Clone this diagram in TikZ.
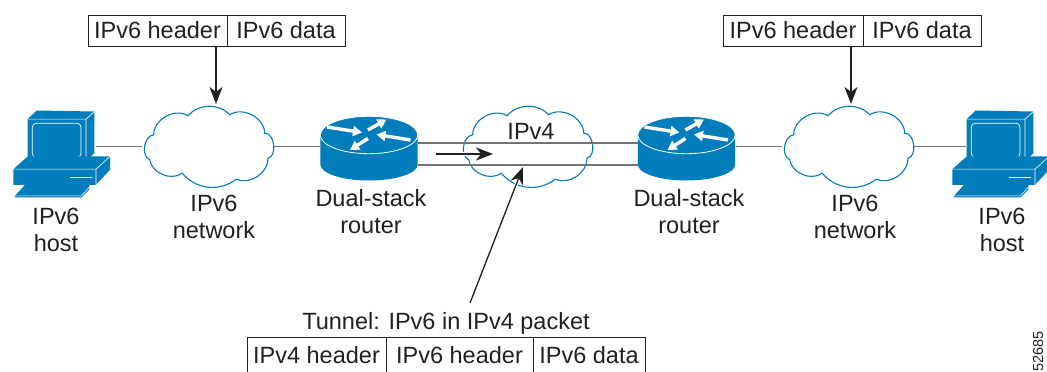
\documentclass[tikz,border=0pt]{standalone}
\usepackage{fontspec}
\setmainfont{Liberation Sans}
\usetikzlibrary{arrows.meta}
\definecolor{ciscoblue}{RGB}{0,125,186}
\definecolor{wirecol}{RGB}{115,115,115}
\definecolor{inkcol}{RGB}{35,31,32}
\tikzset{
    every node/.style={font=\fontsize{23.5}{27}\selectfont, text=inkcol},
    anchorbox/.style={inner sep=0pt, outer sep=0pt, minimum height=0pt},
    label/.style={align=center, inner sep=0pt},
    cell/.style={draw=inkcol, line width=0.7pt, inner sep=0pt, outer sep=0pt, minimum height=31pt, anchor=south west},
    wire/.style={draw=wirecol, line width=1.5pt},
    pointer/.style={draw=inkcol, line width=1.3pt, -{Stealth[length=17pt,width=13pt,inset=5pt]}},
    halo/.style={preaction={draw=white, line width=3.5pt}},
    pics/cloud/.style={code={
        \draw [draw=ciscoblue, line width=1.1pt, fill=white]
            (-54.3,11.7) to[bend left=62] (-20,30.7) to[bend left=48] (21.7,31.7)
            to[bend left=62] (56.7,13.3) to[bend left=85] (60,-11.7)
            to[bend left=58] (28.3,-32.7) to[bend left=44] (-25.7,-26.7)
            to[bend left=58] (-58.3,-13.3) to[bend left=75] cycle;
    }},
    pics/router/.style={code={
        \fill [ciscoblue] (-48.7,11) -- (-48.7,-18) arc[start angle=180, end angle=360, x radius=48.7, y radius=16] -- (48.7,11) -- cycle;
        \draw [white, line width=0.8pt, fill=ciscoblue] (0,11.5) ellipse [x radius=48.7, y radius=18.7];
        \foreach \ax/\ay/\bx/\by in {-42/19.5/-7/14, -1/16.5/17.5/27, 41.5/6.5/7.5/12, -1/8/-19/-3.5}
            \draw [white, line width=3.4pt, -{Triangle[length=9pt,width=10pt]}] (\ax,\ay) -- (\bx,\by);
    }},
    pics/hostpc/.style={code={
        \fill [ciscoblue] (14.4,27.3) -- (23.3,36) -- (81,35) -- (81,-6.7) -- (72.7,-15) -- (14.4,-15) -- cycle;
        \draw [white, line width=0.6pt] (14.4,27.3) -- (72.7,27.3) -- (81,35) (72.7,27.3) -- (72.7,-15);
        \draw [white, line width=0.7pt, rounded corners=4pt] (19,23.3) rectangle (67.7,-11);
        \fill [ciscoblue] (0,-22.7) -- (14.4,-10) -- (96.7,-10) -- (96.7,-23.3) -- (82.7,-38.3) -- (0,-38.3) -- cycle;
        \draw [white, line width=0.6pt] (0,-22.7) -- (82.7,-22.7) -- (96.7,-10) (82.7,-22.7) -- (82.7,-38.3);
        \draw [white, line width=1.2pt] (56.7,-31.3) -- (78.3,-31.3);
        \fill [ciscoblue] (1.7,-49.3) -- (11.7,-38.3) -- (76,-38.3) -- (76,-43) -- (68,-51) -- (1.7,-51) -- cycle;
        \draw [white, line width=0.5pt] (1.7,-49.3) -- (68.3,-49.3) -- (76,-40.5);
    }},
}
\begin{document}
\begin{tikzpicture}[x=1pt,y=1pt]
    \useasboundingbox (0,0) rectangle (1047,372);
    % everything sits on the wire level
    \node [anchorbox, minimum width=80pt] (hostL) at (56,225.5) {};
    \node [anchorbox, minimum width=132pt] (netL) at (208,225.5) {};
    \node [anchorbox, minimum width=98pt] (routerL) at (369,225.5) {};
    \node [anchorbox, minimum width=132pt] (tunnelnet) at (527,225.5) {};
    \node [anchorbox, minimum width=98pt] (routerR) at (686.5,225.5) {};
    \node [anchorbox, minimum width=132pt] (netR) at (848,225.5) {};
    \node [anchorbox, minimum width=80pt] (hostR) at (1006,225.5) {};

    \pic at (netL) {cloud};
    \pic at (tunnelnet) {cloud};
    \pic at (netR) {cloud};

    \draw [wire] (hostL.east) -- (netL.west);
    \draw [wire] (netL.east) -- (routerL.west);
    \draw [wire] (routerR.east) -- (netR.west);
    \draw [wire] (netR.east) -- (hostR.west);
    \draw [wire] ([yshift=3.5pt]routerL.east) -- ([yshift=3.5pt]routerR.west);
    \draw [wire] ([yshift=-18.5pt]routerL.east) -- ([yshift=-18.5pt]routerR.west);

    \pic at (13.3,225.5) {hostpc};
    \pic at (952.3,225.5) {hostpc};
    \pic at (routerL) {router};
    \pic at (routerR) {router};

    \node [label] (hostLtext) at (56,142) {IPv6\\host};
    \node [label] (netLtext) at (214,155) {IPv6\\network};
    \node [label] (routerLtext) at (371,160) {Dual-stack\\router};
    \node [label] (tunneltext) at (531,241) {IPv4};
    \node [label] (routerRtext) at (689,160) {Dual-stack\\router};
    \node [label] (netRtext) at (855,155) {IPv6\\network};
    \node [label] (hostRtext) at (1002,142) {IPv6\\host};
    \node [label] (packettext) at (446,48.5) {Tunnel: IPv6 in IPv4 packet};
    \node [label, rotate=90, font=\fontsize{14.5}{14.5}\selectfont] (figid) at (1038,20.8) {52685};

    % packet boxes
    \node [cell, minimum width=139pt] (hdrL) at (88,326) {IPv6 header};
    \node [cell, minimum width=118pt] (dataL) at (227,326) {IPv6 data};
    \node [cell, minimum width=140pt] (hdrR) at (723,326) {IPv6 header};
    \node [cell, minimum width=118pt] (dataR) at (863,326) {IPv6 data};
    \node [cell, minimum width=139pt, minimum height=37pt] (tunA) at (247,-2) {IPv4 header};
    \node [cell, minimum width=147pt, minimum height=37pt] (tunB) at (386,-2) {IPv6 header};
    \node [cell, minimum width=112pt, minimum height=37pt] (tunC) at (533,-2) {IPv6 data};

    \coordinate (tipL) at (216,268);
    \coordinate (tipR) at (851,268);
    \coordinate (flowA) at (436,218);
    \coordinate (flowB) at (493,218);
    \coordinate (tipT) at (523,205);
    \coordinate (tailT) at (470,69);
    \draw [pointer] (tipL |- hdrL.south) -- (tipL);
    \draw [pointer] (tipR |- hdrR.south) -- (tipR);
    \draw [pointer, halo] (flowA) -- (flowB);
    \draw [pointer, halo] (tailT) -- (tipT);
\end{tikzpicture}
\end{document}
